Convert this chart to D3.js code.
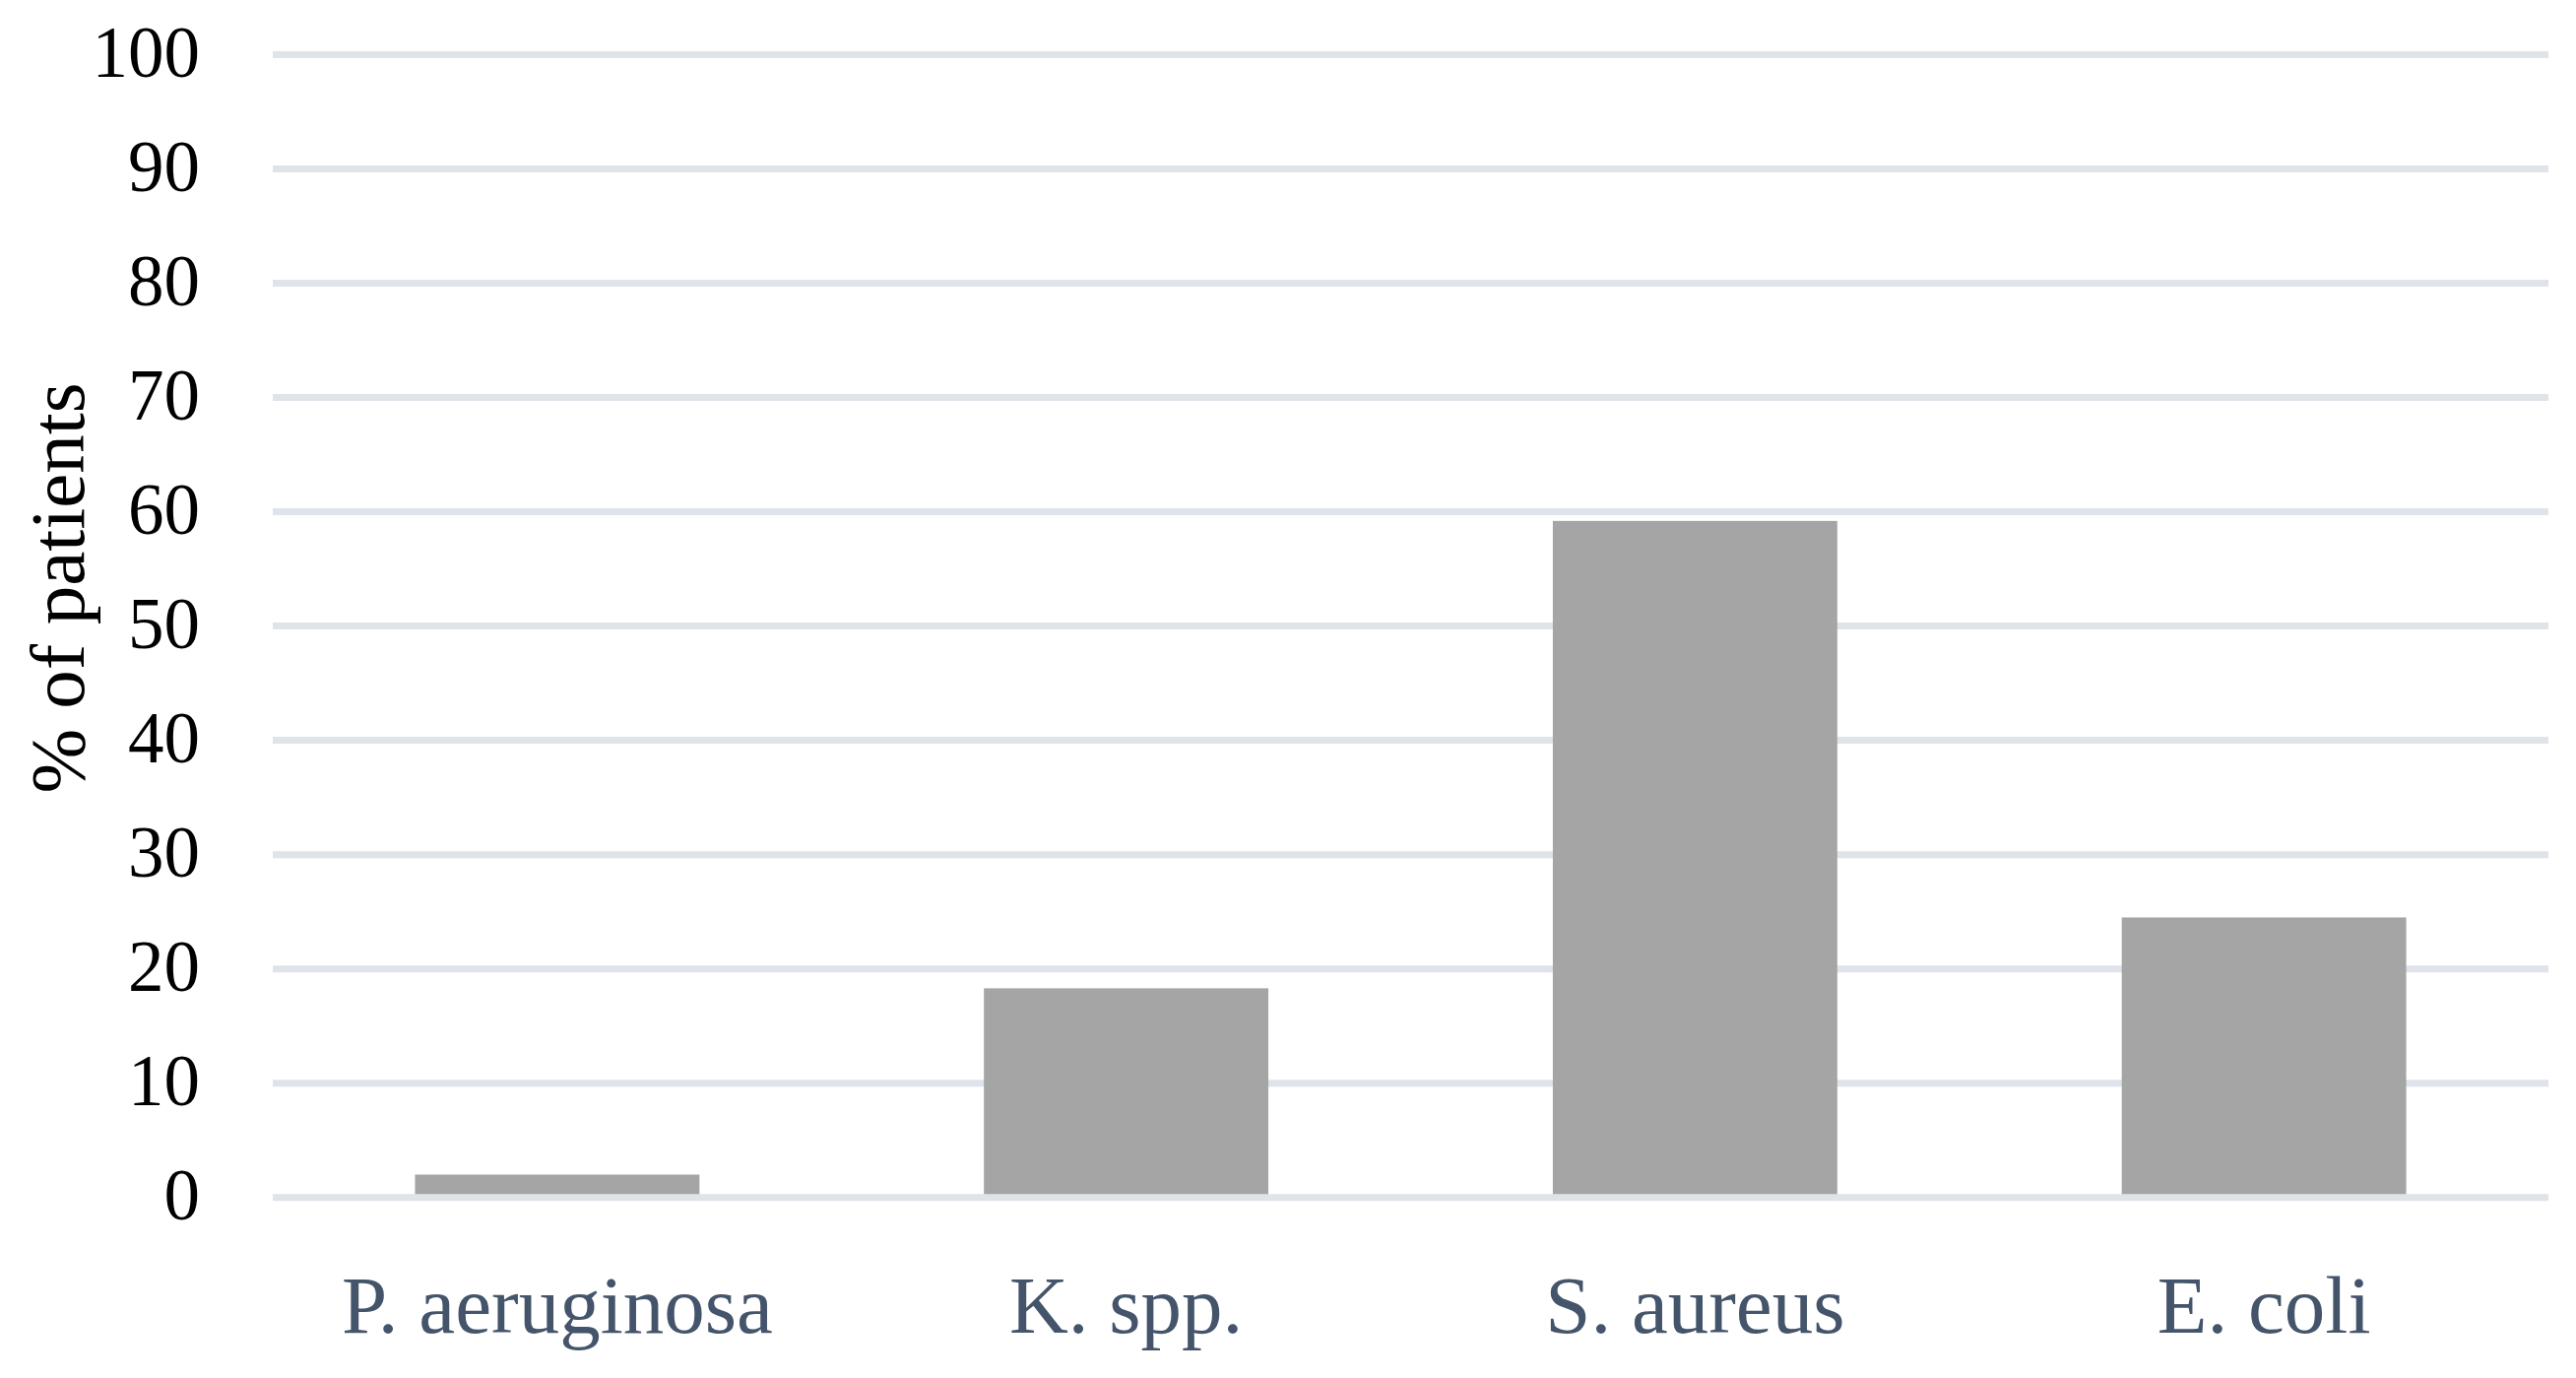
<!DOCTYPE html>
<meta charset="UTF-8">
<style>
body { margin: 0; background: #fff; }
.tick text { font-family: "Palatino Linotype", "Book Antiqua", Palatino, "Liberation Serif", serif; }
</style>
<body>
<script src="https://cdn.jsdelivr.net/npm/d3@7/dist/d3.min.js"></script>
<script>

// chart data
var categories = ["P. aeruginosa", "K. spp.", "S. aureus", "E. coli"];
var percentPatients = [2.0, 18.3, 59.2, 24.5];
var yTicks = [0, 10, 20, 30, 40, 50, 60, 70, 80, 90, 100];

var W = 2616, H = 1399;
var margin = {top: 55.5, right: 28, bottom: 183.3, left: 277};
var width = W - margin.left - margin.right,
    height = H - margin.top - margin.bottom;

var serif = '"Palatino Linotype", "Book Antiqua", Palatino, "Liberation Serif", serif';

var svg = d3.select("body").append("svg")
    .attr("width", W)
    .attr("height", H);

var g = svg.append("g")
    .attr("transform", "translate(" + margin.left + "," + margin.top + ")");

var x = d3.scaleBand()
    .domain(categories)
    .range([0, width])
    .paddingInner(0.5)
    .paddingOuter(0.25);

var y = d3.scaleLinear()
    .domain([0, 100])
    .range([height, 0]);

// gridlines (except the zero line, drawn over the bars)
g.selectAll("line.grid")
  .data(yTicks.filter(function(d) { return d > 0; }))
  .enter().append("line")
    .attr("class", "grid")
    .attr("x1", 0).attr("x2", width)
    .attr("y1", function(d) { return y(d); })
    .attr("y2", function(d) { return y(d); })
    .attr("stroke", "#dfe3ea")
    .attr("stroke-width", 7);

// bars
g.selectAll("rect.bar")
  .data(percentPatients)
  .enter().append("rect")
    .attr("class", "bar")
    .attr("x", function(d, i) { return x(categories[i]); })
    .attr("width", x.bandwidth())
    .attr("y", function(d) { return y(d); })
    .attr("height", function(d) { return y(0) - y(d); })
    .attr("fill", "#a5a5a5");

// zero line
g.append("line")
    .attr("x1", 0).attr("x2", width)
    .attr("y1", y(0)).attr("y2", y(0))
    .attr("stroke", "#dfe3ea")
    .attr("stroke-width", 7);

// y axis labels
var yAxis = g.append("g")
    .call(d3.axisLeft(y).tickValues(yTicks).tickSize(0).tickPadding(74));
yAxis.select(".domain").remove();
yAxis.selectAll("text")
    .attr("fill", "#000")
    .style("font-size", "73px")
    .attr("dy", "0.3em");

// x axis labels
var xAxis = g.append("g")
    .attr("transform", "translate(0," + height + ")")
    .call(d3.axisBottom(x).tickSize(0).tickPadding(0));
xAxis.select(".domain").remove();
xAxis.selectAll("text")
    .attr("fill", "#44546a")
    .style("font-size", "83px")
    .attr("dy", null)
    .attr("y", 137);

// y axis title
svg.append("text")
    .attr("transform", "translate(85,597) rotate(-90)")
    .attr("text-anchor", "middle")
    .style("font-family", serif)
    .style("font-size", "79px")
    .attr("fill", "#000")
    .text("% of patients");

</script>
</body>
